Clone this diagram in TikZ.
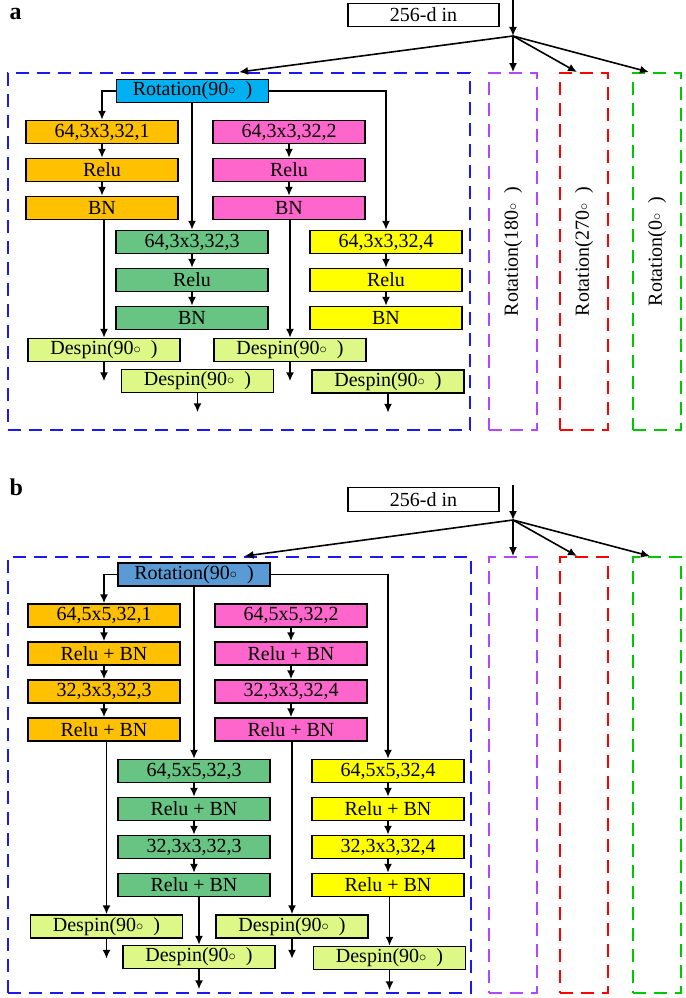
\documentclass[tikz,border=0pt]{standalone}
\usepackage{fontspec}
\setmainfont{Liberation Serif}
\usetikzlibrary{arrows.meta}

\definecolor{orng}{RGB}{255,192,0}
\definecolor{pnk}{RGB}{255,102,204}
\definecolor{grn}{RGB}{104,196,130}
\definecolor{ylw}{RGB}{255,255,0}
\definecolor{dsp}{RGB}{221,248,134}
\definecolor{rotA}{RGB}{0,176,240}
\definecolor{rotB}{RGB}{91,155,213}
\definecolor{dblue}{RGB}{25,25,240}
\definecolor{dpurp}{RGB}{180,70,255}
\definecolor{dred}{RGB}{255,0,0}
\definecolor{dgrn}{RGB}{0,200,0}

\newcommand{\boxfont}{\fontsize{20}{22}\selectfont}
\newcommand{\dgr}{\raisebox{1pt}{$\scriptstyle\circ$}\enspace}

\begin{document}
\begin{tikzpicture}[x=1pt,y=-1pt,
    box/.style={draw,line width=1.5pt,minimum width=152pt,minimum height=23pt,inner sep=0pt,font=\boxfont},
    arr/.style={line width=1.6pt,-{Latex[length=9pt,width=8pt]}},
    grp/.style={draw,dash pattern=on 13pt off 8pt,line width=1.8pt,inner sep=0pt}]
    \useasboundingbox (0,0) rectangle (685,998);

    % ---------------- part a ----------------
    \node[anchor=base west,font=\fontsize{24}{24}\selectfont\bfseries] (lbla) at (6,20) {a};
    \node[box,fill=white,minimum width=151pt] (ina) at (423.5,15) {256-d in};
    \coordinate (ta) at (513,0);
    \coordinate (ja) at (513,36);

    % dashed groups
    \node[grp,dblue,minimum width=462pt,minimum height=357pt] (ba) at (239,251.5) {};
    \node[grp,dpurp,minimum width=48pt,minimum height=357pt] (pa) at (513,251.5) {};
    \node[grp,dred,minimum width=48pt,minimum height=357pt] (ra) at (584,251.5) {};
    \node[grp,dgrn,minimum width=48pt,minimum height=357pt] (ga) at (657,251.5) {};
    \node[rotate=90,font=\boxfont] (pta) at (pa) {Rotation(180\dgr)};
    \node[rotate=90,font=\boxfont] (rta) at (ra) {Rotation(270\dgr)};
    \node[rotate=90,font=\boxfont] (gta) at (ga) {Rotation(0\dgr)};

    % blocks
    \node[box,fill=rotA] (rota) at (192.5,91) {Rotation(90\dgr)};
    \node[box,fill=orng] (oa1) at (102,132) {64,3x3,32,1};
    \node[box,fill=orng] (oa2) at (102,170) {Relu};
    \node[box,fill=orng] (oa3) at (102,208) {BN};
    \node[box,fill=pnk] (pa1) at (289,132) {64,3x3,32,2};
    \node[box,fill=pnk] (pa2) at (289,170) {Relu};
    \node[box,fill=pnk] (pa3) at (289,208) {BN};
    \node[box,fill=grn] (ka1) at (192,242) {64,3x3,32,3};
    \node[box,fill=grn] (ka2) at (192,280) {Relu};
    \node[box,fill=grn] (ka3) at (192,318) {BN};
    \node[box,fill=ylw] (ya1) at (386,242) {64,3x3,32,4};
    \node[box,fill=ylw] (ya2) at (386,280) {Relu};
    \node[box,fill=ylw] (ya3) at (386,318) {BN};
    \node[box,fill=dsp] (da1) at (104,350) {Despin(90\dgr)};
    \node[box,fill=dsp] (da2) at (290,350) {Despin(90\dgr)};
    \node[box,fill=dsp] (da3) at (197.5,381) {Despin(90\dgr)};
    \node[box,fill=dsp] (da4) at (388,381.5) {Despin(90\dgr)};

    % fan out
    \draw[arr] (ta) -- (ja);
    \draw[arr] (ja) -- (ba.north);
    \draw[arr] (ja) -- (pa.north);
    \draw[arr] (ja) -- ([xshift=-7pt]ra.north);
    \draw[arr] (ja) -- ([xshift=-8pt]ga.north);

    % connectors
    \draw[arr] (rota.west) -| (oa1.north);
    \draw[arr] (rota.south -| ka1) -- (ka1.north);
    \draw[arr] (rota.east) -| (ya1.north);
    \foreach \p/\q in {oa1/oa2,oa2/oa3,pa1/pa2,pa2/pa3,ka1/ka2,ka2/ka3,ya1/ya2,ya2/ya3}
        \draw[arr] (\p.south) -- (\q.north);
    \draw[arr] (da1.north |- oa3.south) -- (da1.north);
    \draw[arr] (da2.north |- pa3.south) -- (da2.north);
    \foreach \n in {da1,da2,da3,da4} {
        \path (\n.south) ++(0,19) coordinate (o\n);
        \draw[arr] (\n.south) -- (o\n);
    }

    % ---------------- part b ----------------
    \node[anchor=base west,font=\fontsize{24}{24}\selectfont\bfseries] (lblb) at (6,495) {b};
    \node[box,fill=white,minimum width=151pt,minimum height=24pt] (inb) at (423.5,499.5) {256-d in};
    \coordinate (tb) at (513,485);
    \coordinate (jb) at (513,520);

    % dashed groups
    \node[grp,dblue,minimum width=463pt,minimum height=436pt] (bb) at (239.5,775) {};
    \node[grp,dpurp,minimum width=48pt,minimum height=436pt] (pb) at (513,775) {};
    \node[grp,dred,minimum width=48pt,minimum height=436pt] (rb) at (584,775) {};
    \node[grp,dgrn,minimum width=48pt,minimum height=436pt] (gb) at (657,775) {};

    % blocks
    \node[box,fill=rotB] (rotb) at (194,574.5) {Rotation(90\dgr)};
    \node[box,fill=orng] (ob1) at (104,615.5) {64,5x5,32,1};
    \node[box,fill=orng] (ob2) at (104,653.5) {Relu + BN};
    \node[box,fill=orng] (ob3) at (104,691.5) {32,3x3,32,3};
    \node[box,fill=orng] (ob4) at (104,729.5) {Relu + BN};
    \node[box,fill=pnk] (pb1) at (291,615.5) {64,5x5,32,2};
    \node[box,fill=pnk] (pb2) at (291,653.5) {Relu + BN};
    \node[box,fill=pnk] (pb3) at (291,691.5) {32,3x3,32,4};
    \node[box,fill=pnk] (pb4) at (291,729.5) {Relu + BN};
    \node[box,fill=grn] (kb1) at (194,771) {64,5x5,32,3};
    \node[box,fill=grn] (kb2) at (194,809) {Relu + BN};
    \node[box,fill=grn] (kb3) at (194,847) {32,3x3,32,3};
    \node[box,fill=grn] (kb4) at (194,885) {Relu + BN};
    \node[box,fill=ylw] (yb1) at (388,771) {64,5x5,32,4};
    \node[box,fill=ylw] (yb2) at (388,809) {Relu + BN};
    \node[box,fill=ylw] (yb3) at (388,847) {32,3x3,32,4};
    \node[box,fill=ylw] (yb4) at (388,885) {Relu + BN};
    \node[box,fill=dsp] (db1) at (106.5,926.5) {Despin(90\dgr)};
    \node[box,fill=dsp] (db2) at (292,926.5) {Despin(90\dgr)};
    \node[box,fill=dsp] (db3) at (199,957) {Despin(90\dgr)};
    \node[box,fill=dsp] (db4) at (389.5,958) {Despin(90\dgr)};

    % fan out
    \draw[arr] (tb) -- (jb);
    \draw[arr] (jb) -- ([xshift=5pt]bb.north);
    \draw[arr] (jb) -- (pb.north);
    \draw[arr] (jb) -- ([xshift=-7pt]rb.north);
    \draw[arr] (jb) -- ([xshift=-7pt]gb.north);

    % connectors
    \draw[arr] (rotb.west) -| (ob1.north);
    \draw[arr] (rotb.south -| kb1) -- (kb1.north);
    \draw[arr] (rotb.east) -| (yb1.north);
    \foreach \p/\q in {ob1/ob2,ob2/ob3,ob3/ob4,pb1/pb2,pb2/pb3,pb3/pb4,kb1/kb2,kb2/kb3,kb3/kb4,yb1/yb2,yb2/yb3,yb3/yb4}
        \draw[arr] (\p.south) -- (\q.north);
    \draw[arr] (db1.north |- ob4.south) -- (db1.north);
    \draw[arr] (db2.north |- pb4.south) -- (db2.north);
    \draw[arr] (db3.north |- kb4.south) -- (db3.north);
    \draw[arr] (db4.north |- yb4.south) -- (db4.north);
    \foreach \n in {db1,db2,db3,db4} {
        \path (\n.south) ++(0,20) coordinate (o\n);
        \draw[arr] (\n.south) -- (o\n);
    }
\end{tikzpicture}
\end{document}
